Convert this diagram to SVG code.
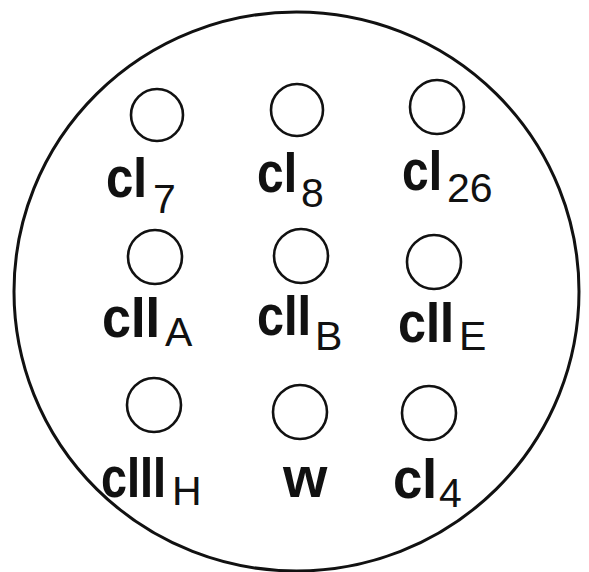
<svg xmlns="http://www.w3.org/2000/svg" width="589" height="572" viewBox="0 0 589 572">
<style>
.hole{fill:none;stroke:#111;stroke-width:2.6}
.outer{fill:#fff;stroke:#111;stroke-width:3}
.lab{font-family:"Liberation Sans",Arial,sans-serif;font-weight:bold;font-size:57px;fill:#111}
.sub{font-family:"Liberation Sans",Arial,sans-serif;font-weight:normal;font-size:41px;fill:#111}
</style>
<rect width="589" height="572" fill="#fff"/>
<g id="disc">
<ellipse class="outer" cx="296.5" cy="291.5" rx="282.5" ry="279.5"/>
</g>
<g id="connectors"></g>
<g id="n-cl7">
<circle class="hole" cx="157" cy="115" r="26"/>
<text class="lab" x="106" y="197" textLength="41" lengthAdjust="spacingAndGlyphs">cI</text><text class="sub" x="153" y="213">7</text>
</g>
<g id="n-cl8">
<circle class="hole" cx="297" cy="110" r="26"/>
<text class="lab" x="257" y="192" textLength="40" lengthAdjust="spacingAndGlyphs">cI</text><text class="sub" x="301" y="207">8</text>
</g>
<g id="n-cl26">
<circle class="hole" cx="437" cy="107" r="27"/>
<text class="lab" x="402" y="190" textLength="40" lengthAdjust="spacingAndGlyphs">cI</text><text class="sub" x="447" y="202">26</text>
</g>
<g id="n-cllA">
<circle class="hole" cx="155" cy="257" r="27"/>
<text class="lab" x="102" y="337" textLength="58" lengthAdjust="spacingAndGlyphs">cII</text><text class="sub" x="165" y="346">A</text>
</g>
<g id="n-cllB">
<circle class="hole" cx="301" cy="256" r="27"/>
<text class="lab" x="257" y="335" textLength="54" lengthAdjust="spacingAndGlyphs">cII</text><text class="sub" x="315" y="350">B</text>
</g>
<g id="n-cllE">
<circle class="hole" cx="434" cy="262" r="27"/>
<text class="lab" x="398" y="342" textLength="56" lengthAdjust="spacingAndGlyphs">cII</text><text class="sub" x="459" y="350">E</text>
</g>
<g id="n-clllH">
<circle class="hole" cx="154" cy="405" r="27"/>
<text class="lab" x="101" y="497" textLength="65" lengthAdjust="spacingAndGlyphs">cIII</text><text class="sub" x="172" y="505">H</text>
</g>
<g id="n-w">
<circle class="hole" cx="300" cy="412" r="27"/>
<text class="lab" x="283" y="497">w</text>
</g>
<g id="n-cl4">
<circle class="hole" cx="429" cy="413" r="27"/>
<text class="lab" x="393" y="498" textLength="44" lengthAdjust="spacingAndGlyphs">cI</text><text class="sub" x="439" y="507">4</text>
</g>
</svg>
